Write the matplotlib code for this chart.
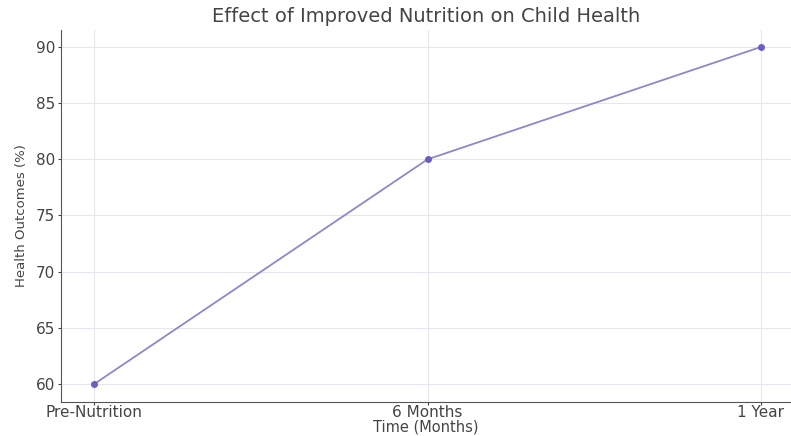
import matplotlib
matplotlib.use('Agg')
import matplotlib.pyplot as plt

stages = ['Pre-Nutrition', '6 Months', '1 Year']
outcomes = [60, 80, 90]

fig = plt.figure(figsize=(7.91, 4.36), dpi=100)
ax = fig.add_axes([0.077, 0.078, 0.923, 0.853])

x = list(range(len(stages)))
ax.plot(x, outcomes, color='#8f86cf', linewidth=1.3, marker='o', markersize=4,
        markerfacecolor='#6a5fc0', markeredgecolor='#6a5fc0')

ax.set_xticks(x)
ax.set_xticklabels(stages)
ax.set_xlim(-0.1, 2.09)
ax.set_ylim(58.4, 91.5)
ax.set_yticks([60, 65, 70, 75, 80, 85, 90])

ax.grid(True, color='#e6e6ee', linewidth=0.8)
ax.set_axisbelow(True)
for s in ['top', 'right']:
  ax.spines[s].set_visible(False)
for s in ['left', 'bottom']:
  ax.spines[s].set_color('#555555')

ax.tick_params(colors='#444444', labelsize=11, length=2)
ax.tick_params(axis='x', pad=0.5)
ax.tick_params(axis='y', pad=2)
ax.set_title('Effect of Improved Nutrition on Child Health', fontsize=14, color='#444444', pad=6)
ax.set_xlabel('Time (Months)', fontsize=10.5, color='#444444', labelpad=-1)
ax.set_ylabel('Health Outcomes (%)', fontsize=9.5, color='#444444', labelpad=6)

fig.savefig('out.png', dpi=100)
